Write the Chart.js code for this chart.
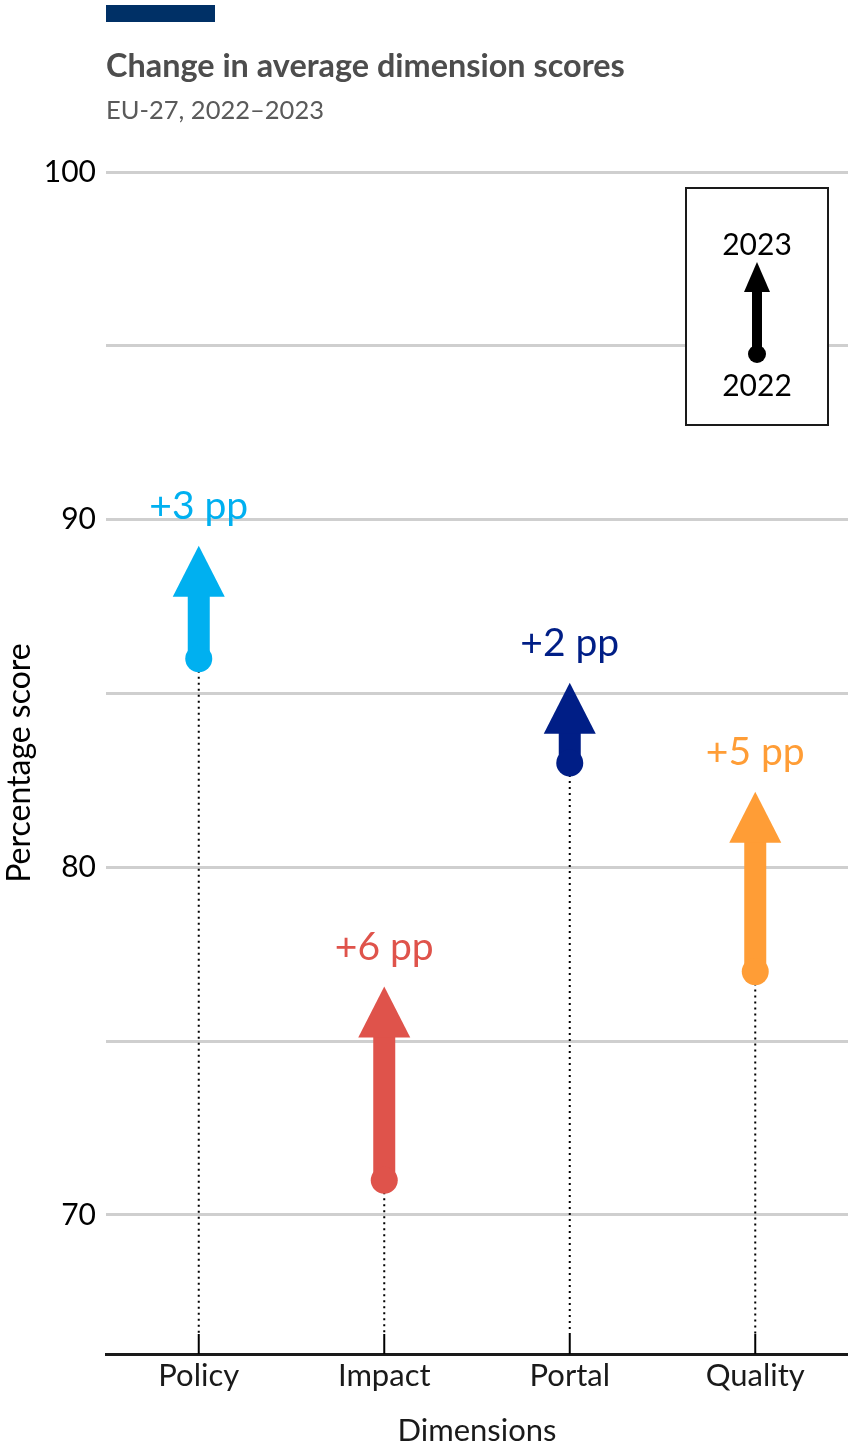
<!DOCTYPE html>
<html>
<head>
<meta charset="utf-8">
<script src="https://cdn.jsdelivr.net/npm/chart.js@4.4.1/dist/chart.umd.min.js"></script>
<style>
  html, body { margin: 0; padding: 0; background: #ffffff; }
  #wrap { position: relative; width: 848px; height: 1447px; }
  #chart { position: absolute; left: 0; top: 0; }
  .bar { position: absolute; left: 106px; top: 5px; width: 109px; height: 17px; background: #003066; }
  .title { position: absolute; left: 106px; top: 47px; font: bold 32.4px Lato, sans-serif; color: #4d4d4d; line-height: 36px; white-space: nowrap; }
  .subtitle { position: absolute; left: 106px; top: 94px; font: 25.5px Lato, sans-serif; color: #5a5a5a; line-height: 30px; white-space: nowrap; }
</style>
</head>
<body>
<div id="wrap">
  <canvas id="chart" width="848" height="1447"></canvas>
  <div class="bar"></div>
  <div class="title">Change in average dimension scores</div>
  <div class="subtitle">EU-27, 2022–2023</div>
</div>
<script>
// Average dimension scores, EU-27
const categories = ['Policy', 'Impact', 'Portal', 'Quality'];
const scores2022 = [86.0, 71.0, 83.0, 77.0];
const scores2023 = [89.25, 76.57, 85.31, 82.17];
const dimensionColors = ['#00b0f0', '#df534b', '#001e86', '#ff9d36'];
const yTickValues = [70, 75, 80, 85, 90, 95, 100];
const yLabelledTicks = [70, 80, 90, 100];
const legendYears = ['2022', '2023'];

const FONT = 'Lato, "Noto Sans", sans-serif';

// Arrows from the 2022 score up to the 2023 score, with a dotted drop line to the axis
const arrowPlugin = {
  id: 'changeArrows',
  beforeDatasetsDraw(chart) {
    const ctx = chart.ctx;
    const from = chart.getDatasetMeta(0).data;
    const to = chart.getDatasetMeta(1).data;
    const bottom = chart.chartArea.bottom;
    ctx.save();
    from.forEach((pt, i) => {
      const x = pt.x, y0 = pt.y, y1 = to[i].y;
      // drop line
      ctx.strokeStyle = '#000';
      ctx.lineWidth = 2;
      ctx.setLineDash([2, 4]);
      ctx.beginPath();
      ctx.moveTo(x, y0 + 12);
      ctx.lineTo(x, bottom - 20);
      ctx.stroke();
      ctx.setLineDash([]);
      ctx.beginPath();
      ctx.moveTo(x, bottom - 20);
      ctx.lineTo(x, bottom);
      ctx.stroke();
      // shaft and head
      const headH = 51, headW = 52, shaftW = 22;
      const base = y1 + headH;
      ctx.fillStyle = dimensionColors[i];
      ctx.fillRect(x - shaftW / 2, base - 1, shaftW, y0 - base + 1);
      ctx.beginPath();
      ctx.moveTo(x, y1);
      ctx.lineTo(x + headW / 2, base);
      ctx.lineTo(x - headW / 2, base);
      ctx.closePath();
      ctx.fill();
    });
    ctx.restore();
  },
  afterDatasetsDraw(chart) {
    const ctx = chart.ctx;
    const to = chart.getDatasetMeta(1).data;
    const area = chart.chartArea;
    ctx.save();
    // change labels
    ctx.font = '39px ' + FONT;
    ctx.textAlign = 'center';
    ctx.textBaseline = 'alphabetic';
    to.forEach((pt, i) => {
      const diff = Math.round(scores2023[i] - scores2022[i]);
      ctx.fillStyle = dimensionColors[i];
      ctx.fillText((diff >= 0 ? '+' : '') + diff + ' pp', pt.x, pt.y - 27);
    });
    // key box
    const bx = area.right - 162, by = area.top + 16, bw = 142, bh = 237;
    ctx.fillStyle = '#ffffff';
    ctx.fillRect(bx, by, bw, bh);
    ctx.strokeStyle = '#1a1a1a';
    ctx.lineWidth = 2;
    ctx.strokeRect(bx, by, bw, bh);
    const cx = bx + bw / 2;
    ctx.fillStyle = '#000';
    ctx.font = '30px ' + FONT;
    ctx.fillText(legendYears[1], cx, by + 67);
    ctx.fillText(legendYears[0], cx, by + 208);
    const tip = by + 74, hb = by + 104, dot = by + 166;
    ctx.beginPath();
    ctx.moveTo(cx, tip);
    ctx.lineTo(cx + 13, hb);
    ctx.lineTo(cx - 13, hb);
    ctx.closePath();
    ctx.fill();
    ctx.fillRect(cx - 5, hb - 1, 10, dot - hb + 1);
    ctx.beginPath();
    ctx.arc(cx, dot, 9, 0, Math.PI * 2);
    ctx.fill();
    ctx.restore();
  }
};

new Chart(document.getElementById('chart'), {
  type: 'line',
  data: {
    labels: categories,
    datasets: [
      {
        label: '2022',
        data: scores2022,
        showLine: false,
        pointRadius: 13.5,
        pointHoverRadius: 13.5,
        pointBackgroundColor: dimensionColors,
        pointBorderWidth: 0
      },
      {
        label: '2023',
        data: scores2023,
        showLine: false,
        pointRadius: 0,
        pointHoverRadius: 0
      }
    ]
  },
  options: {
    responsive: false,
    animation: false,
    events: [],
    layout: { autoPadding: false, padding: { top: 172, right: 0, left: 0, bottom: 0 } },
    plugins: {
      legend: { display: false },
      tooltip: { enabled: false }
    },
    scales: {
      x: {
        offset: true,
        grid: { display: false },
        border: { display: true, color: '#1a1a1a', width: 3 },
        ticks: { color: '#1a1a1a', font: { family: FONT, size: 31 }, padding: -5, maxRotation: 0 },
        title: { display: true, text: 'Dimensions', color: '#1a1a1a', font: { family: FONT, size: 31 }, padding: { top: 0, bottom: -3 } },
        afterFit(s) { s.height = 93; s.paddingLeft = 0; s.paddingRight = 0; }
      },
      y: {
        min: 66,
        max: 100,
        afterBuildTicks(s) { s.ticks = yTickValues.map(v => ({ value: v })); },
        grid: { color: '#cfcfcf', lineWidth: 3, drawTicks: false, tickLength: 0 },
        border: { display: false },
        ticks: {
          color: '#000',
          font: { family: FONT, size: 30 },
          padding: 10,
          callback: v => yLabelledTicks.includes(v) ? String(v) : ''
        },
        title: { display: true, text: 'Percentage score', color: '#000', font: { family: FONT, size: 32 }, padding: 0 },
        afterFit(s) { s.width = 106; }
      }
    }
  },
  plugins: [arrowPlugin]
});
</script>
</body>
</html>
